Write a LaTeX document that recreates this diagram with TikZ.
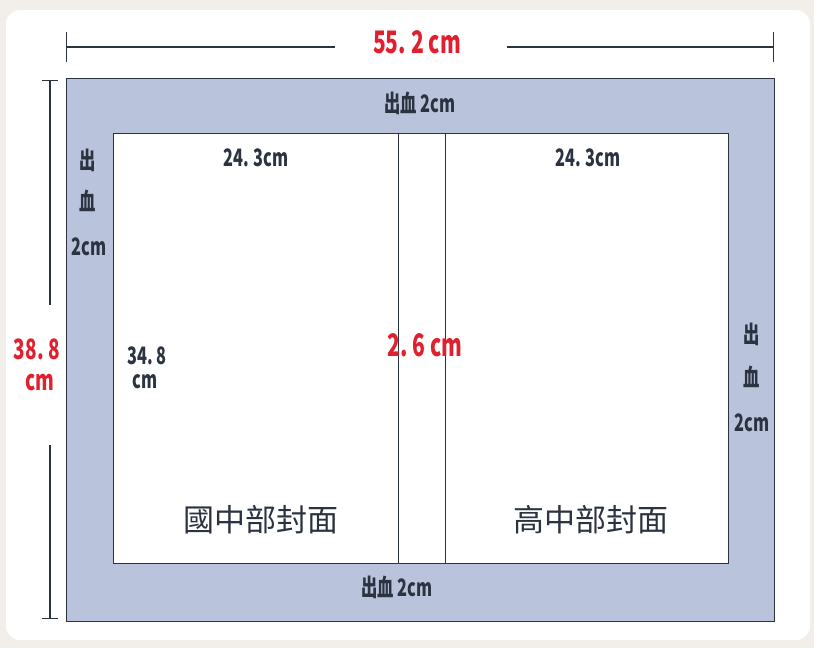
\documentclass[tikz,border=0pt]{standalone}
\usepackage{fontspec}
\setmainfont{Noto Sans CJK TC}
\newfontfamily\cond[FakeStretch=0.68]{Noto Sans CJK TC}
\usepackage{tikz}
\usetikzlibrary{arrows.meta}
\definecolor{bleed}{HTML}{B9C3DC}
\definecolor{frame}{HTML}{2B3340}
\definecolor{dimred}{HTML}{E0202E}
\definecolor{card}{HTML}{F2EFEA}

\begin{document}
\begin{tikzpicture}[x=1pt, y=-1pt,
  lab/.style={inner sep=0pt, text=frame, font=\cond\bfseries\fontsize{24}{24}\selectfont},
  red lab/.style={inner sep=0pt, text=dimred, font=\cond\bfseries\fontsize{31}{31}\selectfont},
  title/.style={inner sep=0pt, text=frame, font=\fontsize{31}{31}\selectfont},
  dim/.style={frame, line width=1.1pt}]
 \useasboundingbox (0,0) rectangle (814,648);
 % card background
 \fill[card] (0,0) rectangle (814,648);
 \fill[white, rounded corners=14pt] (6,10) rectangle (810,640);
 % bleed area and the two covers
 \draw[frame, fill=bleed, line width=0.9pt] (66,78) rectangle (774,621);
 \draw[frame, fill=white, line width=0.9pt] (113,133) rectangle (728,563);
 \coordinate (sl1) at (398,133);
 \coordinate (sl2) at (398,563);
 \coordinate (sr1) at (445,133);
 \coordinate (sr2) at (445,563);
 \draw[frame, line width=0.9pt] (sl1) -- (sl2) (sr1) -- (sr2);

 % width 55.2 cm
 \coordinate (wl) at (66,47);
 \coordinate (wr) at (774,47);
 \node[red lab] (wlab) at (417,42) {55.\,2 cm};
 \coordinate (wl2) at (335,47);
 \coordinate (wr2) at (507,47);
 \draw[dim, {Bar[width=30pt]}-] (wl) -- (wl2);
 \draw[dim, -{Bar[width=30pt]}] (wr2) -- (wr);

 % height 38.8 cm
 \coordinate (ht) at (50,80);
 \coordinate (hb) at (50,619);
 \node[red lab, font=\cond\bfseries\fontsize{28}{28}\selectfont] (hlab1) at (37,349) {38.\,8};
 \node[red lab, font=\cond\bfseries\fontsize{28}{28}\selectfont] (hlab2) at (40,383) {cm};
 \coordinate (ht2) at (50,305);
 \coordinate (hb2) at (50,445);
 \draw[dim, {Bar[width=16pt]}-] (ht) -- (ht2);
 \draw[dim, -{Bar[width=16pt]}] (hb2) -- (hb);

 % bleed labels
 \node[lab] (btop) at (420,103) {出血 2cm};
 \node[lab] (bbot) at (397,587) {出血 2cm};
 \node[lab] (bl1) at (88,160) {出};
 \node[lab] (bl2) at (88,201) {血};
 \node[lab] (bl3) at (89,247) {2cm};
 \node[lab] (br1) at (752,334) {出};
 \node[lab] (br2) at (752,377) {血};
 \node[lab] (br3) at (752,423) {2cm};

 % cover sizes
 \node[lab] (cwl) at (256,158) {24.\,3cm};
 \node[lab] (cwr) at (588,158) {24.\,3cm};
 \node[lab] (ch1) at (147,356) {34.\,8};
 \node[lab] (ch2) at (145,382) {cm};
 \node[red lab] (spine) at (425,345) {2.\,6 cm};

 % cover titles
 \node[title] (junior) at (261,520) {國中部封面};
 \node[title] (senior) at (591,520) {高中部封面};
\end{tikzpicture}
\end{document}
